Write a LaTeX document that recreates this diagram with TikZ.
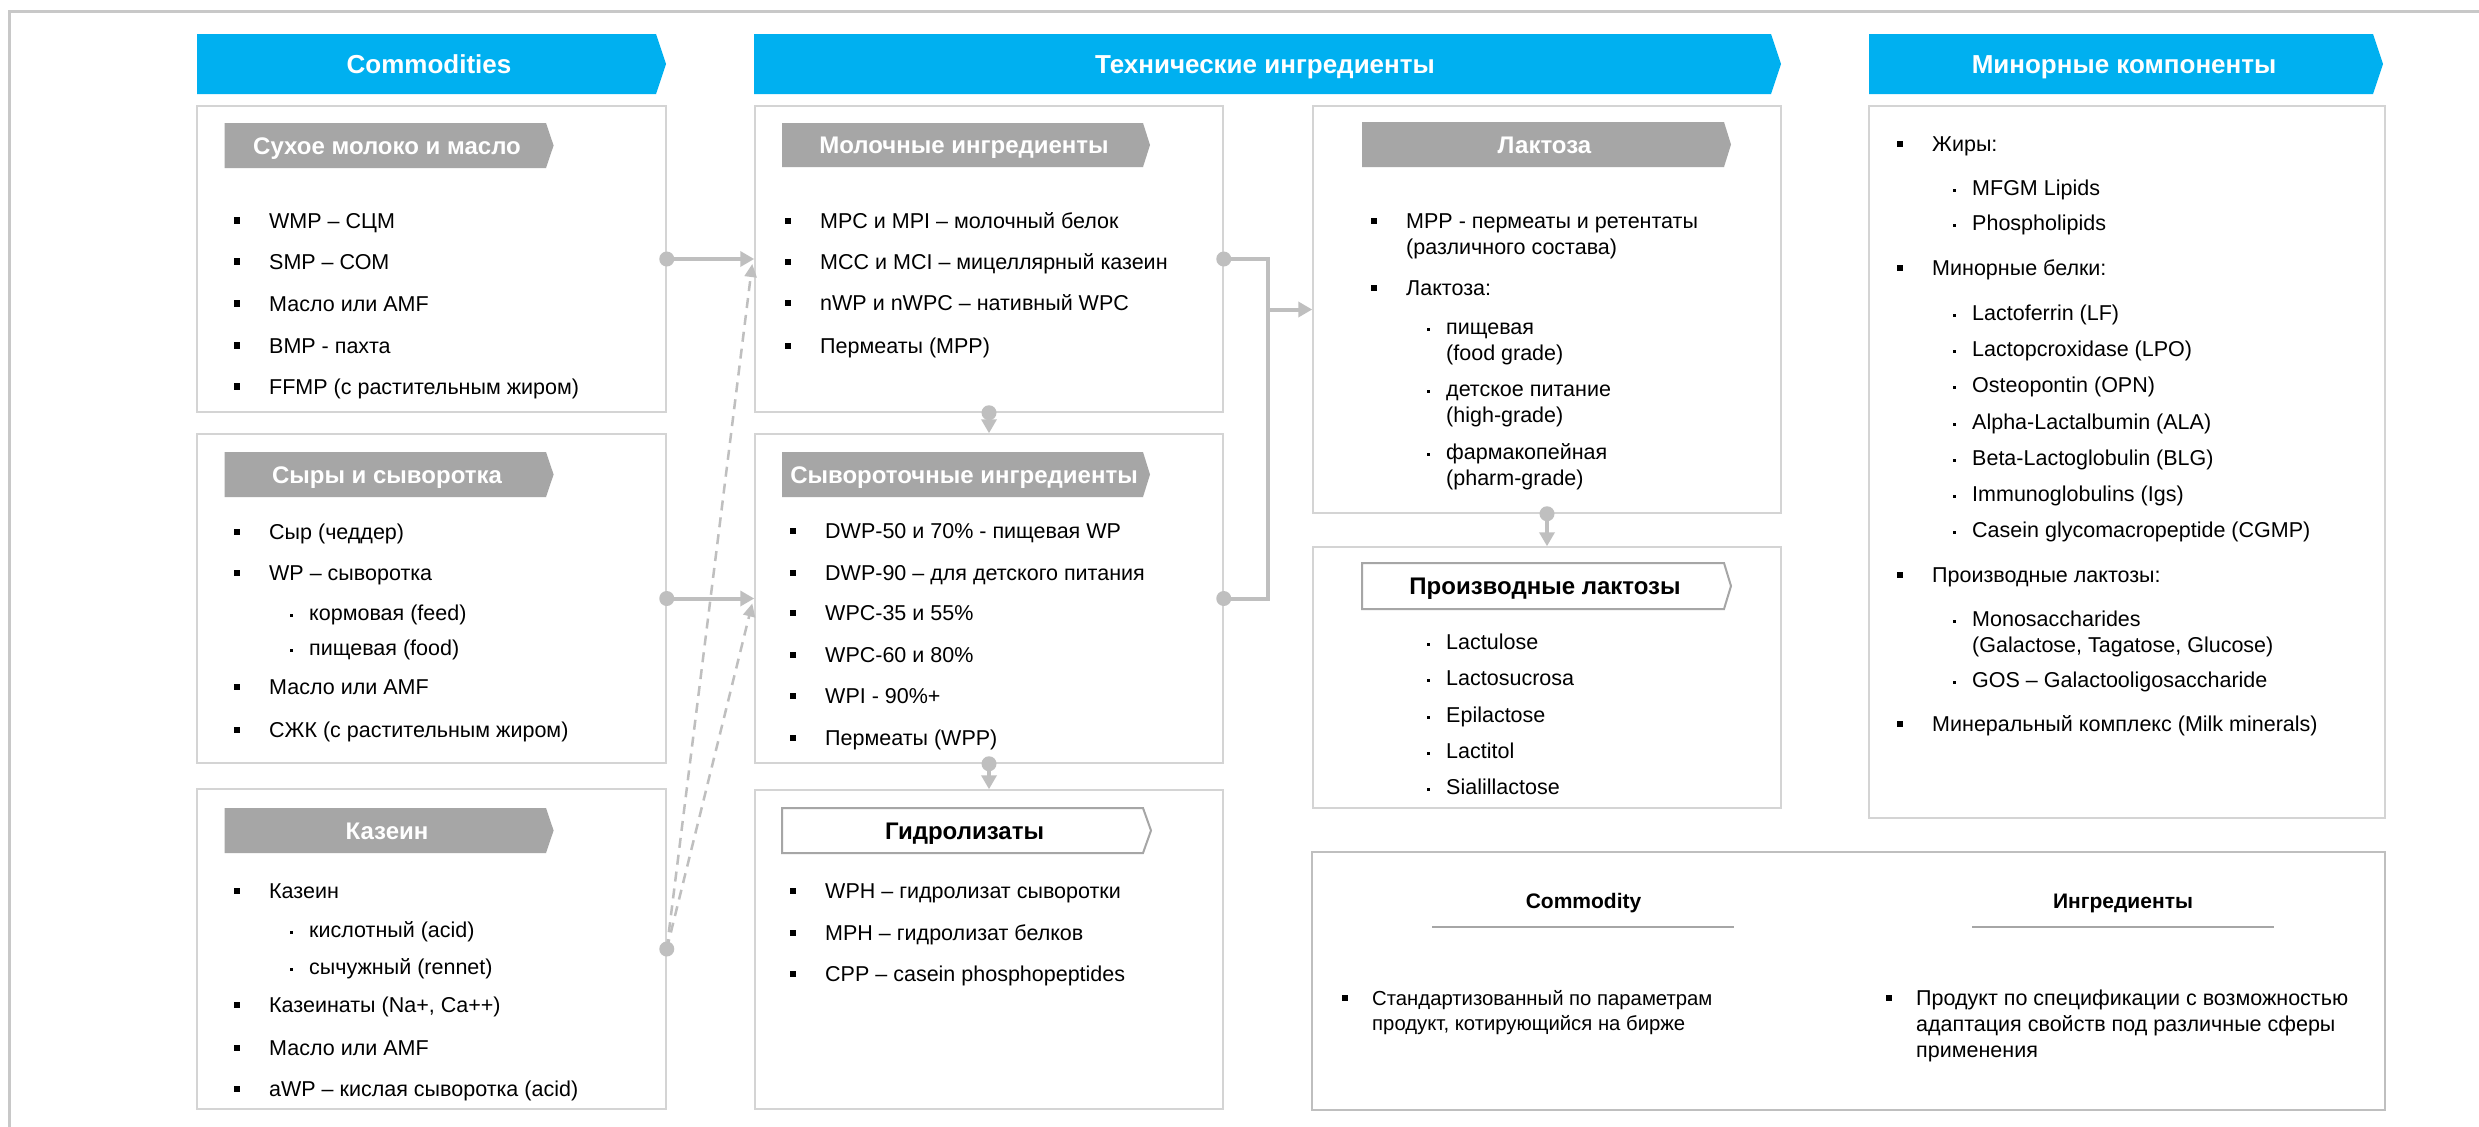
\documentclass[tikz,border=0pt]{standalone}
\usepackage{fontspec}
\setmainfont{Liberation Sans}
\usetikzlibrary{arrows.meta,calc}
\definecolor{blueh}{HTML}{00B0F0}
\definecolor{greyh}{HTML}{A6A6A6}
\definecolor{boxl}{HTML}{D4D4D4}
\definecolor{connc}{HTML}{BFBFBF}
\definecolor{framec}{HTML}{C8C8C8}
\newcommand\bodyf{\fontsize{21.5}{26}\selectfont}
\newcommand\smallbodyf{\fontsize{20.3}{25}\selectfont}
\newcommand\hbf{\fontsize{26}{30}\selectfont\bfseries}
\newcommand\gbf{\fontsize{24}{28}\selectfont\bfseries}
\newcommand\cbf{\fontsize{21}{26}\selectfont\bfseries}
\newcommand\bsq{\llap{\rule[4.5pt]{6pt}{6.5pt}\hspace{29pt}}}
\newcommand\bsqc{\llap{\rule[4.5pt]{6pt}{6.5pt}\hspace{24pt}}}
\newcommand\bdt{\llap{\rule[4pt]{3pt}{3pt}\hspace{16.5pt}}}
\newcommand\twol[2]{\begin{tabular}[t]{@{}l@{}}#1\\#2\end{tabular}}
\newcommand\threel[3]{\begin{tabular}[t]{@{}l@{}}#1\\#2\\#3\end{tabular}}
\begin{document}
\begin{tikzpicture}[x=1pt,y=-1pt,
  box/.style={draw=boxl, line width=1.5pt, fill=white, inner sep=0pt},
  cbox/.style={draw=connc, line width=2.5pt, fill=white, inner sep=0pt},
  itm/.style={anchor=base west, inner sep=0pt, font=\bodyf, text=black},
  htxt/.style={anchor=base, inner sep=0pt, font=\hbf, text=white},
  gtxt/.style={anchor=base, inner sep=0pt, font=\gbf, text=white},
  otxt/.style={anchor=base, inner sep=0pt, font=\gbf, text=black},
  ctxt/.style={anchor=base, inner sep=0pt, font=\cbf, text=black},
  conn/.style={draw=connc, line width=4pt},
  arr/.style={conn, -{Triangle[length=14pt,width=15pt]}},
  dsh/.style={draw=connc, line width=2.5pt, dash pattern=on 10pt off 7pt, -{Triangle[length=13pt,width=12pt]}},
  dotc/.style={fill=connc}]
\useasboundingbox (0,0) rectangle (2479,1127);
\fill[white] (0,0) rectangle (2479,1127);
\draw[framec, line width=3pt] (9,1127) -- (9,11) -- (2479,11);

% ---------- blue headers
\fill[blueh] (197,34) -- (656,34) -- (666,64) -- (656,94) -- (197,94) -- cycle;
\node[htxt] (h1) at (429,73.3) {Commodities};
\fill[blueh] (754,34) -- (1771,34) -- (1781,64) -- (1771,94) -- (754,94) -- cycle;
\node[htxt] (h2) at (1265,73.3) {Технические ингредиенты};
\fill[blueh] (1869,34) -- (2373,34) -- (2383,64) -- (2373,94) -- (1869,94) -- cycle;
\node[htxt] (h3) at (2124,73.3) {Минорные компоненты};

% ---------- boxes
\node[box, minimum width=469pt, minimum height=306pt] (b1) at (431.5,259) {};
\node[box, minimum width=469pt, minimum height=329pt] (b2) at (431.5,598.5) {};
\node[box, minimum width=469pt, minimum height=320pt] (b3) at (431.5,949) {};
\node[box, minimum width=468pt, minimum height=306pt] (m1) at (989,259) {};
\node[box, minimum width=468pt, minimum height=329pt] (s1) at (989,598.5) {};
\node[box, minimum width=468pt, minimum height=319pt] (g1) at (989,949.5) {};
\node[box, minimum width=468pt, minimum height=407pt] (l1) at (1547,309.5) {};
\node[box, minimum width=468pt, minimum height=261pt] (p1) at (1547,677.5) {};
\node[box, minimum width=516pt, minimum height=712pt] (n1) at (2127,462) {};
\node[cbox, minimum width=1073pt, minimum height=258pt] (c1) at (1848.5,981) {};

% ---------- grey / outlined sub-headers
\fill[greyh] (224.5,123) -- (546,123) -- (553.6,145.5) -- (546,168) -- (224.5,168) -- cycle;
\node[gtxt] (b1h) at (387,154.1) {Сухое молоко и масло};
\fill[greyh] (224.5,452) -- (546,452) -- (553.6,474.5) -- (546,497) -- (224.5,497) -- cycle;
\node[gtxt] (b2h) at (387,483.1) {Сыры и сыворотка};
\fill[greyh] (224.5,808) -- (546,808) -- (553.6,830.5) -- (546,853) -- (224.5,853) -- cycle;
\node[gtxt] (b3h) at (387,839.1) {Казеин};
\fill[greyh] (782,123) -- (1143,123) -- (1150,145) -- (1143,167) -- (782,167) -- cycle;
\node[gtxt] (m1h) at (964,153.6) {Молочные ингредиенты};
\fill[greyh] (782,452) -- (1143,452) -- (1150,474.5) -- (1143,497) -- (782,497) -- cycle;
\node[gtxt] (s1h) at (964,483.1) {Сывороточные ингредиенты};
\draw[greyh, line width=2pt, fill=white] (782,808) -- (1143,808) -- (1151,830.5) -- (1143,853) -- (782,853) -- cycle;
\node[otxt] (g1h) at (964.5,839.1) {Гидролизаты};
\fill[greyh] (1362,122) -- (1724,122) -- (1731,144.5) -- (1724,167) -- (1362,167) -- cycle;
\node[gtxt] (l1h) at (1544.5,153.1) {Лактоза};
\draw[greyh, line width=2pt, fill=white] (1362,563) -- (1724,563) -- (1731,586) -- (1724,609) -- (1362,609) -- cycle;
\node[otxt] (p1h) at (1545,594.6) {Производные лактозы};

% ---------- Сухое молоко и масло
\node[itm] (b1a) at (269,228) {\bsq WMP – СЦМ};
\node[itm] (b1b) at (269,269) {\bsq SMP – СОМ};
\node[itm] (b1c) at (269,311) {\bsq Масло или AMF};
\node[itm] (b1d) at (269,353) {\bsq BMP - пахта};
\node[itm] (b1e) at (269,394) {\bsq FFMP (с растительным жиром)};

% ---------- Сыры и сыворотка
\node[itm] (b2a) at (269,539.5) {\bsq Сыр (чеддер)};
\node[itm] (b2b) at (269,580.5) {\bsq WP – сыворотка};
\node[itm] (b2c) at (309,620.5) {\bdt кормовая (feed)};
\node[itm] (b2d) at (309,655.5) {\bdt пищевая (food)};
\node[itm] (b2e) at (269,694.5) {\bsq Масло или AMF};
\node[itm] (b2f) at (269,737.5) {\bsq СЖК (с растительным жиром)};

% ---------- Казеин
\node[itm] (b3a) at (269,898.5) {\bsq Казеин};
\node[itm] (b3b) at (309,937.5) {\bdt кислотный (acid)};
\node[itm] (b3c) at (309,974.5) {\bdt сычужный (rennet)};
\node[itm] (b3d) at (269,1012.5) {\bsq Казеинаты (Na+, Ca++)};
\node[itm] (b3e) at (269,1055.5) {\bsq Масло или AMF};
\node[itm] (b3f) at (269,1096.5) {\bsq aWP – кислая сыворотка (acid)};

% ---------- Молочные ингредиенты
\node[itm] (m1a) at (820,228.5) {\bsq MPC и MPI – молочный белок};
\node[itm] (m1b) at (820,269.5) {\bsq MCC и MCI – мицеллярный казеин};
\node[itm] (m1c) at (820,310.5) {\bsq nWP и nWPC – нативный WPC};
\node[itm] (m1d) at (820,353.5) {\bsq Пермеаты (MPP)};

% ---------- Сывороточные ингредиенты
\node[itm] (s1a) at (825,538.5) {\bsq DWP-50 и 70\% - пищевая WP};
\node[itm] (s1b) at (825,580.5) {\bsq DWP-90 – для детского питания};
\node[itm] (s1c) at (825,620.5) {\bsq WPC-35 и 55\%};
\node[itm] (s1d) at (825,662.5) {\bsq WPC-60 и 80\%};
\node[itm] (s1e) at (825,703.5) {\bsq WPI - 90\%+};
\node[itm] (s1f) at (825,745.5) {\bsq Пермеаты (WPP)};

% ---------- Гидролизаты
\node[itm] (g1a) at (825,898.5) {\bsq WPH – гидролизат сыворотки};
\node[itm] (g1b) at (825,940.5) {\bsq MPH – гидролизат белков};
\node[itm] (g1c) at (825,981.5) {\bsq CPP – casein phosphopeptides};

% ---------- Лактоза
\node[itm] (l1a) at (1406,228.5) {\bsq\twol{MPP - пермеаты и ретентаты}{(различного состава)}};
\node[itm] (l1b) at (1406,295.5) {\bsq Лактоза:};
\node[itm] (l1c) at (1446,334.5) {\bdt\twol{пищевая}{(food grade)}};
\node[itm] (l1d) at (1446,396.5) {\bdt\twol{детское питание}{(high-grade)}};
\node[itm] (l1e) at (1446,459.5) {\bdt\twol{фармакопейная}{(pharm-grade)}};

% ---------- Производные лактозы
\node[itm] (p1a) at (1446,649.5) {\bdt Lactulose};
\node[itm] (p1b) at (1446,685.5) {\bdt Lactosucrosa};
\node[itm] (p1c) at (1446,722.5) {\bdt Epilactose};
\node[itm] (p1d) at (1446,758.5) {\bdt Lactitol};
\node[itm] (p1e) at (1446,794.5) {\bdt Sialillactose};

% ---------- Минорные компоненты
\node[itm] (n1a) at (1932,151.5) {\bsq Жиры:};
\node[itm] (n1b) at (1972,195.5) {\bdt MFGM Lipids};
\node[itm] (n1c) at (1972,230.5) {\bdt Phospholipids};
\node[itm] (n1d) at (1932,275.5) {\bsq Минорные белки:};
\node[itm] (n1e) at (1972,320.5) {\bdt Lactoferrin (LF)};
\node[itm] (n1f) at (1972,356.5) {\bdt Lactopcroxidase (LPO)};
\node[itm] (n1g) at (1972,392.5) {\bdt Osteopontin (OPN)};
\node[itm] (n1h) at (1972,429.5) {\bdt Alpha-Lactalbumin (ALA)};
\node[itm] (n1i) at (1972,465.5) {\bdt Beta-Lactoglobulin (BLG)};
\node[itm] (n1j) at (1972,501.5) {\bdt Immunoglobulins (Igs)};
\node[itm] (n1k) at (1972,537.5) {\bdt Casein glycomacropeptide (CGMP)};
\node[itm] (n1l) at (1932,582.5) {\bsq Производные лактозы:};
\node[itm] (n1m) at (1972,626.5) {\bdt\twol{Monosaccharides}{(Galactose, Tagatose, Glucose)}};
\node[itm] (n1n) at (1972,687.5) {\bdt GOS – Galactooligosaccharide};
\node[itm] (n1o) at (1932,731.5) {\bsq Минеральный комплекс (Milk minerals)};

% ---------- Commodity / Ингредиенты
\node[ctxt] (c1t) at (1583.5,908) {Commodity};
\node[ctxt] (c1u) at (2123,908) {Ингредиенты};
\draw[greyh, line width=2.5pt] (1432,927) -- (1734,927);
\draw[greyh, line width=2.5pt] (1972,927) -- (2274,927);
\node[itm, font=\smallbodyf] (c1a) at (1372,1005.5) {\bsqc\twol{Стандартизованный по параметрам}{продукт, котирующийся на бирже}};
\node[itm] (c1b) at (1916,1005.5) {\bsqc\threel{Продукт по спецификации с возможностью}{адаптация свойств под различные сферы}{применения}};

% ---------- connectors
\draw[arr] (b1.east) -- (m1.west);
\fill[dotc] (b1.east) circle (7.5pt);
\draw[arr] (b2.east) -- (s1.west);
\fill[dotc] (b2.east) circle (7.5pt);
\draw[dsh] (b3.east) -- ($(m1.west)+(-2,5)$);
\draw[dsh] (b3.east) -- ($(s1.west)+(-2,5)$);
\fill[dotc] (b3.east) circle (7.5pt);

\coordinate (jx) at (1268,0);
\draw[conn] (m1.east) -| (jx |- s1.east) -- (s1.east);
\draw[arr] (jx |- l1.west) -- (l1.west);
\fill[dotc] (m1.east) circle (7.5pt);
\fill[dotc] (s1.east) circle (7.5pt);

\draw[arr] (m1.south) -- (s1.north);
\fill[dotc] (m1.south) circle (7.5pt);
\draw[arr] (s1.south) -- (g1.north);
\fill[dotc] (s1.south) circle (7.5pt);
\draw[arr] (l1.south) -- (p1.north);
\fill[dotc] (l1.south) circle (7.5pt);
\end{tikzpicture}
\end{document}
